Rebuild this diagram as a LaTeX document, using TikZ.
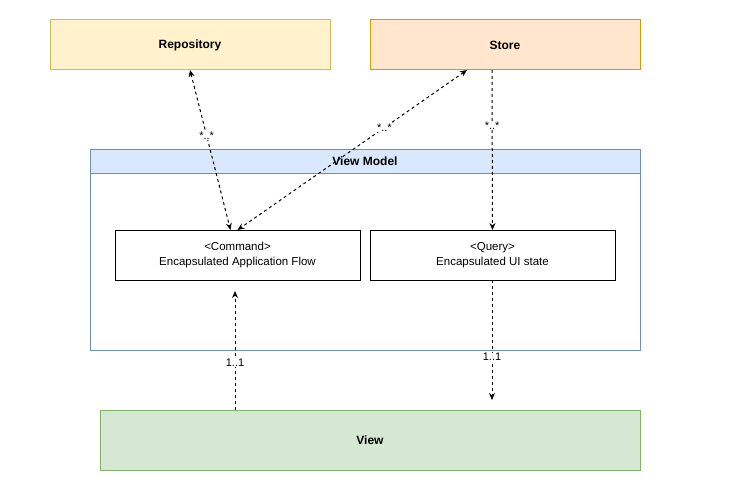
\documentclass[tikz,border=0pt]{standalone}
\usepackage{fontspec}
\setmainfont{Liberation Sans}
\usetikzlibrary{arrows.meta, positioning, calc}

\definecolor{repofill}{HTML}{FFF2CC}
\definecolor{repoline}{HTML}{D6B656}
\definecolor{storefill}{HTML}{FFE6CC}
\definecolor{storeline}{HTML}{D79B00}
\definecolor{vmfill}{HTML}{DAE8FC}
\definecolor{vmline}{HTML}{6C8EBF}
\definecolor{viewfill}{HTML}{D5E8D4}
\definecolor{viewline}{HTML}{82B366}

\begin{document}
\begin{tikzpicture}[x=1pt, y=-1pt,
    box/.style={draw, line width=1pt, outer sep=0pt, inner sep=2pt, align=center,
      font=\fontsize{12}{14}\selectfont},
    part/.style={box, minimum width=245pt, minimum height=50pt,
      font=\fontsize{11.5}{14.5}\selectfont},
    conn/.style={line width=1pt, dash pattern=on 3pt off 3pt},
    tip/.style={-{Stealth[length=7pt,width=6pt]}},
    tips/.style={{Stealth[length=7pt,width=6pt]}-{Stealth[length=7pt,width=6pt]}},
    mult/.style={fill=white, inner sep=0.5pt, font=\fontsize{11}{12}\selectfont}]
  \useasboundingbox (0,0) rectangle (732,495);

  % Data sources
  \node[box, fill=repofill, draw=repoline, minimum width=280pt, minimum height=50pt] (repo) at (190,45) {\textbf{Repository}};
  \node[box, fill=storefill, draw=storeline, minimum width=270pt, minimum height=50pt] (store) at (505,45) {\textbf{Store}};

  % View model container
  \node[box, draw=vmline, minimum width=550pt, minimum height=200pt] (vm) at (365,250) {};
  \node[box, fill=vmfill, draw=vmline, minimum width=550pt, minimum height=23pt, anchor=north] (vmhead) at (vm.north) {\textbf{View Model}};

  % Inner parts
  \node[part] (cmd) at (237.5,255) {<Command>\\Encapsulated Application Flow};
  \node[part] (query) at (492.5,255) {<Query>\\Encapsulated UI state};

  % View
  \node[box, fill=viewfill, draw=viewline, minimum width=540pt, minimum height=60pt] (view) at (370,440) {\textbf{View}};

  % Free ends
  \coordinate (cmdin) at (235,291);
  \coordinate (viewin) at (492,400);

  % Connectors
  \draw[conn, tips] (repo.south) -- node[mult, pos=0.41] {*..*} ([xshift=-7pt]cmd.north);
  \draw[conn, tips] ([xshift=-38pt]store.south) -- node[mult, pos=0.36] {*..*} (cmd.north);
  \draw[conn, tip] ([xshift=-13pt]store.south) -- node[mult, pos=0.35] {*..*} (query.north);
  \draw[conn, tip] ([xshift=-135pt]view.north) -- node[mult, pos=0.4] {1..1} (cmdin);
  \draw[conn, tip] ([xshift=-0.5pt]query.south) -- node[mult, pos=0.64] {1..1} (viewin);
\end{tikzpicture}
\end{document}
